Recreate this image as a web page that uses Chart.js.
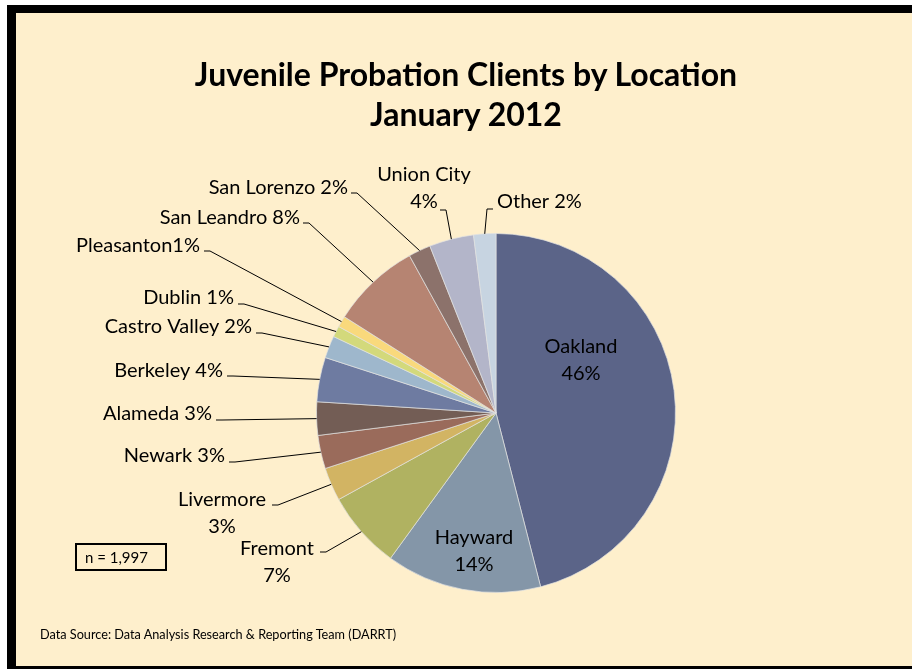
<!DOCTYPE html>
<html>
<head>
<meta charset="utf-8">
<script src="https://cdn.jsdelivr.net/npm/chart.js@4.4.0/dist/chart.umd.min.js"></script>
<style>
  html, body { margin: 0; padding: 0; background: #fff; overflow: hidden; }
  body { width: 912px; height: 669px; position: relative; font-family: Lato, "Open Sans", sans-serif; }
  #frame {
    position: absolute; left: 7px; top: 5px; width: 920px; height: 670px;
    box-sizing: border-box; border: 9px solid #000; border-top-width: 8px;
    background: #FEEFCC;
  }
  #chart { position: absolute; left: 0; top: 0; }
  .title {
    position: absolute; left: 16px; width: 900px; text-align: center;
    font-weight: bold; font-size: 32px; color: #000; line-height: 34px;
  }
  #nbox {
    position: absolute; left: 75px; top: 543px; width: 92px; height: 28px;
    box-sizing: border-box; border: 2px solid #000; font-size: 15px;
    line-height: 24px; padding-left: 8px;
  }
  #source { position: absolute; left: 40px; top: 626px; font-size: 12.7px; }
</style>
</head>
<body>
<div id="frame"></div>
<canvas id="chart" width="912" height="669"></canvas>
<div class="title" style="top:57px">Juvenile Probation Clients by Location</div>
<div class="title" style="top:97px">January 2012</div>
<div id="nbox">n = 1,997</div>
<div id="source">Data Source: Data Analysis Research &amp; Reporting Team (DARRT)</div>
<script>
// data (percent of clients)
const locations = ["Oakland", "Hayward", "Fremont", "Livermore", "Newark", "Alameda", "Berkeley",
    "Castro Valley", "Dublin", "Pleasanton", "San Leandro", "San Lorenzo", "Union City", "Other"];
const percents = [46, 14, 7, 3, 3, 3, 4, 2, 1, 1, 8, 2, 4, 2];
const sliceColors = ["#5B6488", "#8496A8", "#B0B261", "#D2B463", "#9A6B5B", "#735D55", "#6E7BA1",
    "#9EB7CC", "#D3D97B", "#F9D97C", "#B68472", "#8C726B", "#B3B5C9", "#C7D4E1"];

// where each data label sits (x, y of first line), how its text is split, and where its leader starts
const labelLayout = [
    { x: 581, y: 347, align: "center", split: "\n", inside: true },
    { x: 474, y: 538, align: "center", split: "\n", inside: true },
    { x: 277, y: 549, align: "center", split: "\n", lead: [320, 552], dir: 1 },
    { x: 222, y: 500, align: "center", split: "\n", lead: [272, 505], dir: 1 },
    { x: 225, y: 456, align: "right", split: " ", lead: [229, 462], dir: 1 },
    { x: 212, y: 414, align: "right", split: " ", lead: [216, 420], dir: 1 },
    { x: 223, y: 371, align: "right", split: " ", lead: [227, 376], dir: 1 },
    { x: 252, y: 327, align: "right", split: " ", lead: [256, 333], dir: 1 },
    { x: 234, y: 298, align: "right", split: " ", lead: [238, 304], dir: 1 },
    { x: 200, y: 246, align: "right", split: "", lead: [204, 251], dir: 1 },
    { x: 300, y: 218, align: "right", split: " ", lead: [303, 223], dir: 1 },
    { x: 348, y: 188, align: "right", split: " ", lead: [351, 193], dir: 1 },
    { x: 424, y: 175, align: "center", split: "\n", lead: [440, 210], dir: 1 },
    { x: 497, y: 202, align: "left", split: " ", lead: [493, 209], dir: -1 }
];

const lineHeight = 27;

const labelPlugin = {
    id: "sliceLabels",
    afterDraw(chart) {
        const ctx = chart.ctx;
        const arcs = chart.getDatasetMeta(0).data;
        ctx.save();
        ctx.font = "20px Lato";
        ctx.fillStyle = "#000";
        ctx.textBaseline = "middle";
        arcs.forEach((arc, i) => {
            const lay = labelLayout[i];
            const text = locations[i] + lay.split + percents[i] + "%";
            const lines = text.split("\n");
            ctx.textAlign = lay.align;
            lines.forEach((ln, k) => {
                ctx.fillText(ln, lay.x, lay.y + k * lineHeight);
            });

            if (lay.lead) {
                const p = arc.getProps(["x", "y", "startAngle", "endAngle", "outerRadius"], true);
                const mid = (p.startAngle + p.endAngle) / 2;
                const ex = p.x + Math.cos(mid) * p.outerRadius;
                const ey = p.y + Math.sin(mid) * p.outerRadius;
                ctx.beginPath();
                ctx.strokeStyle = "#000";
                ctx.lineWidth = 1;
                ctx.moveTo(lay.lead[0], lay.lead[1]);
                ctx.lineTo(lay.lead[0] + 6 * lay.dir, lay.lead[1]);
                ctx.lineTo(ex, ey);
                ctx.stroke();
            }
        });
        ctx.restore();
    }
};

new Chart(document.getElementById("chart").getContext("2d"), {
    type: "pie",
    data: {
        labels: locations,
        datasets: [{
            data: percents,
            backgroundColor: sliceColors,
            borderColor: "rgba(225, 225, 225, 0.7)",
            borderWidth: 1
        }]
    },
    options: {
        responsive: false,
        animation: false,
        layout: { padding: { left: 316, right: 236, top: 233, bottom: 76 } },
        plugins: {
            legend: { display: false },
            tooltip: { enabled: false },
            title: { display: false }
        }
    },
    plugins: [labelPlugin]
});
</script>
</body>
</html>
